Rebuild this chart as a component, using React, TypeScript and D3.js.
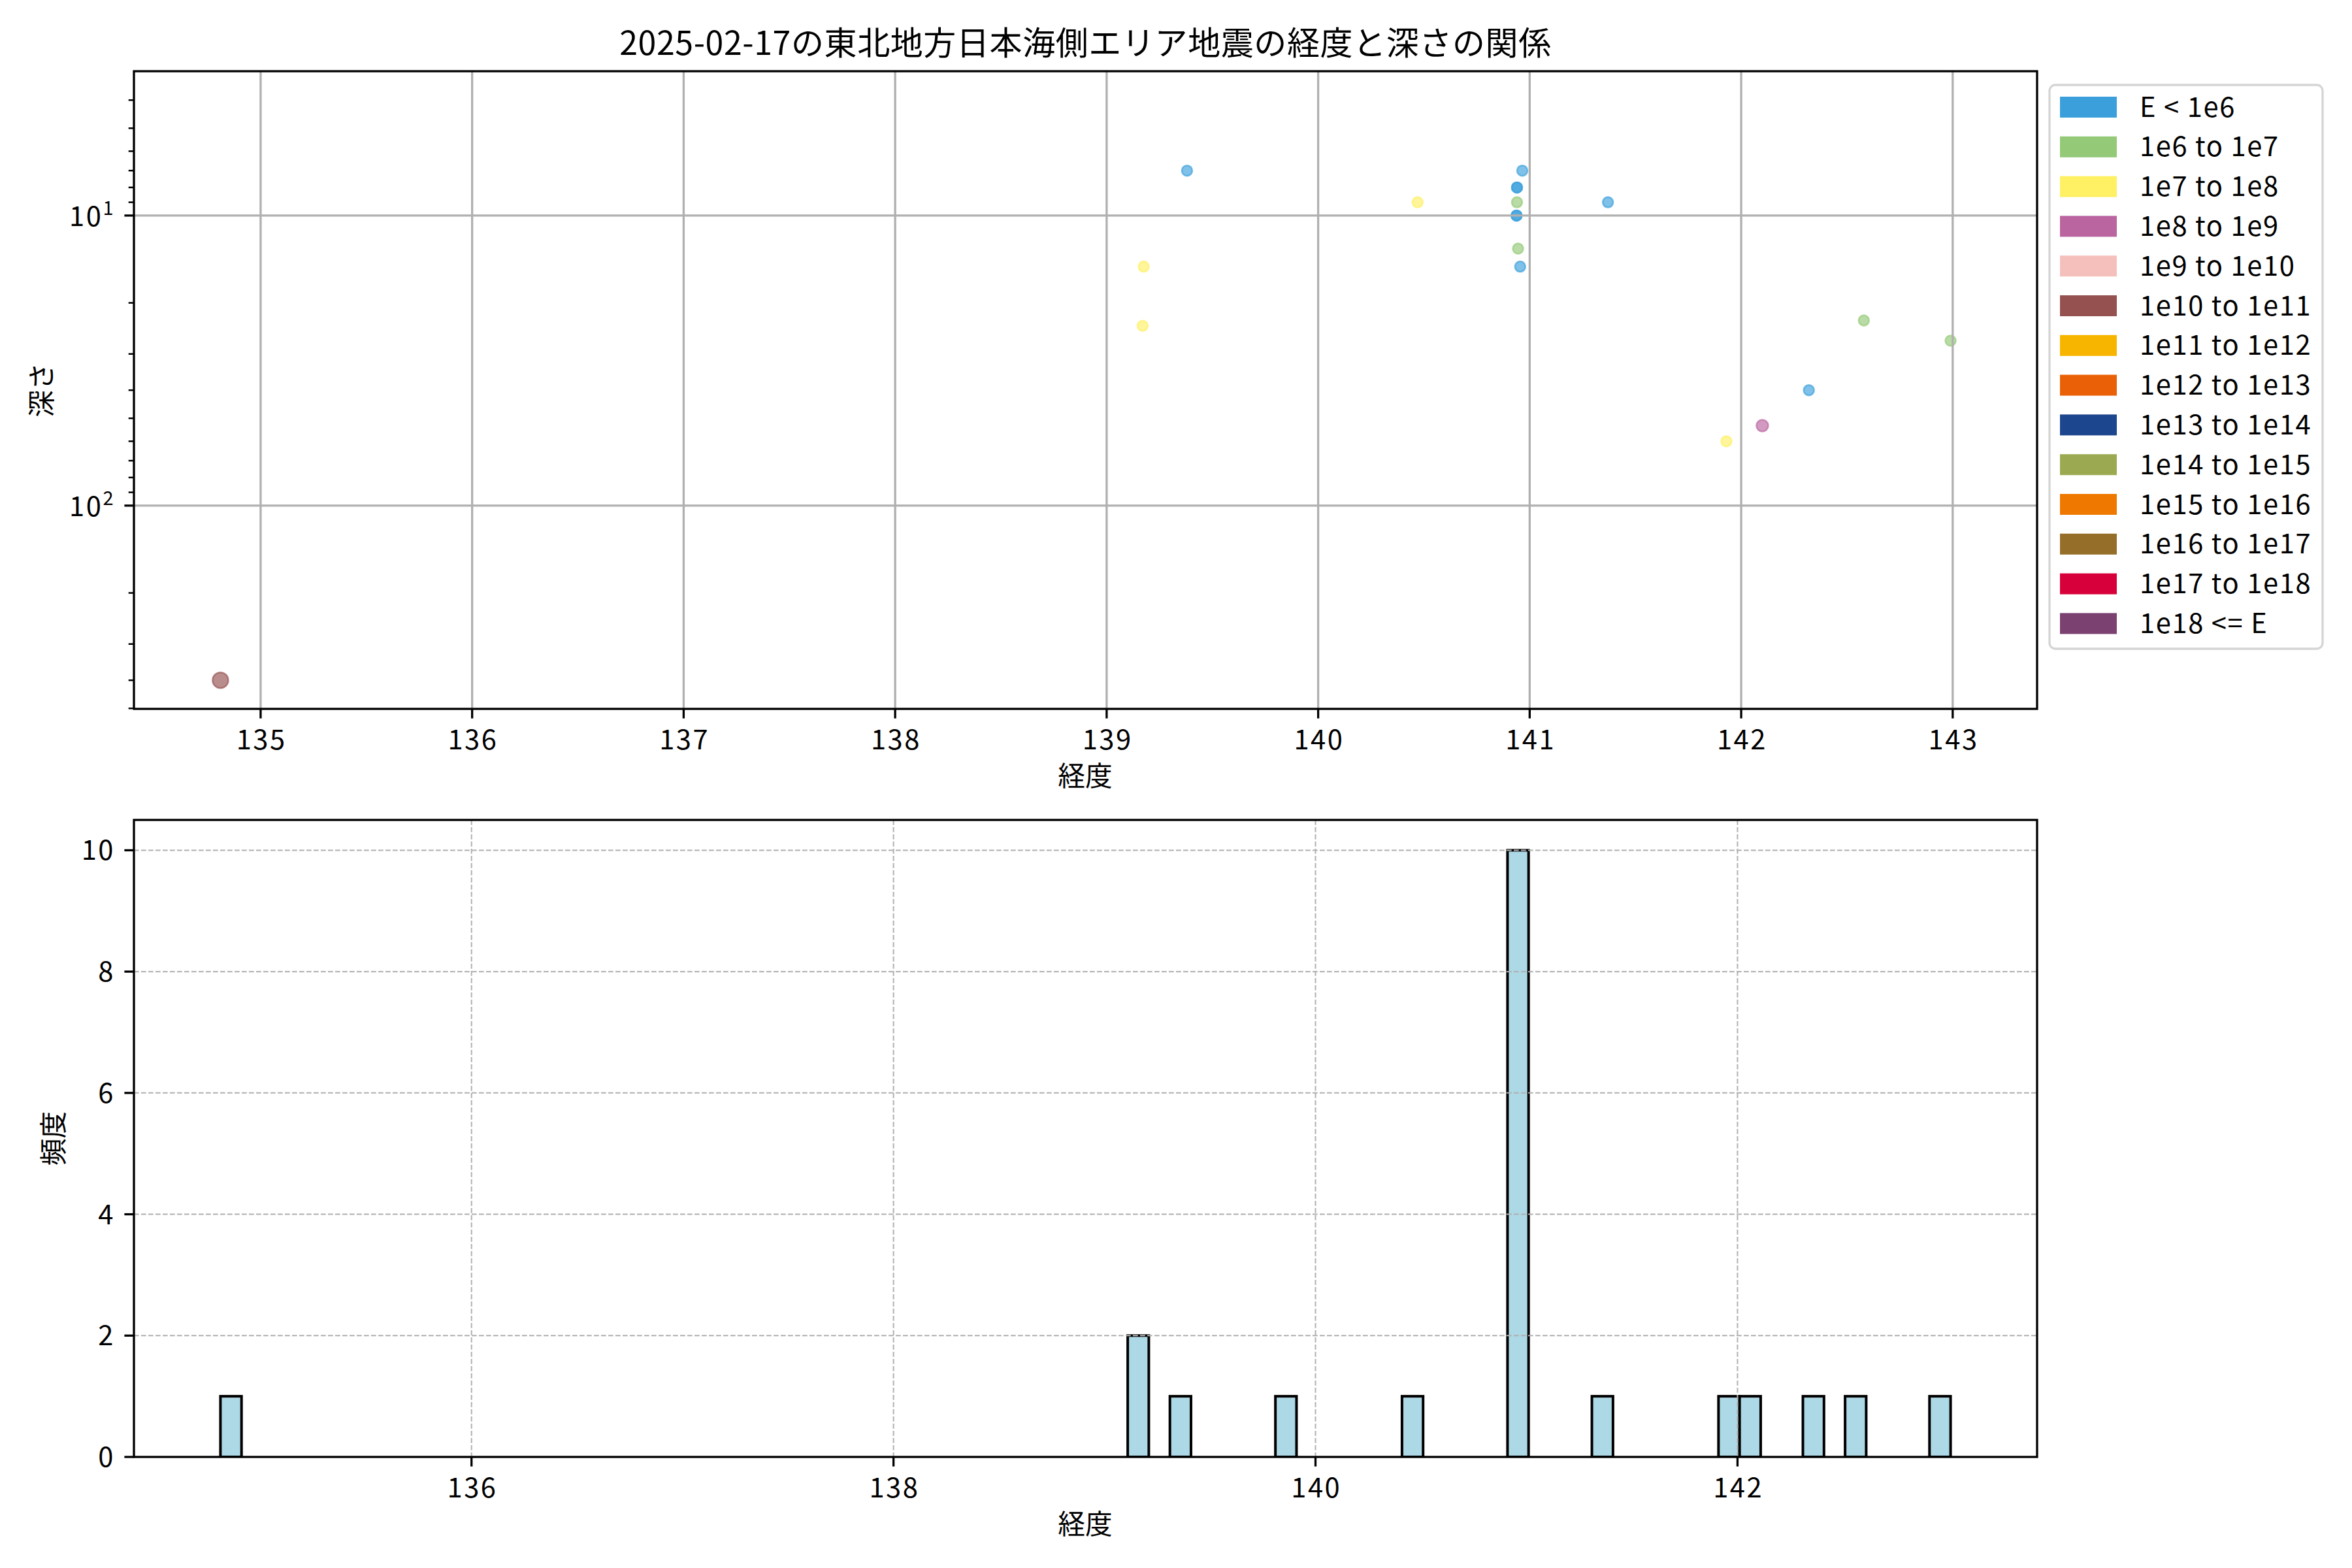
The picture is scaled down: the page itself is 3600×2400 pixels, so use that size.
import React from 'react';
import * as d3 from 'd3';

// ---------- data ----------
const TITLE = '2025-02-17の東北地方日本海側エリア地震の経度と深さの関係';
const X_LABEL = '経度';
const Y_LABEL_TOP = '深さ';
const Y_LABEL_HIST = '頻度';

// longitude, depth (km) and magnitude of each event
const lons = [
  139.38, 140.965, 140.94, 140.94, 140.47, 140.94, 141.37, 140.938, 140.938, 140.945,
  139.175, 140.955, 139.17, 142.58, 142.99, 142.32, 142.1, 141.93, 134.81, 139.86,
  140.95, 140.97,
];
const depths = [
  7, 7, 8, 8, 9, 9, 9, 10, 10, 13,
  15, 15, 24, 23, 27, 40, 53, 60, 400, 0,
  0, 0,
];
const mags = [
  0.5, 0.6, 0.4, 0.7, 1.7, 1.1, 0.6, 0.5, 0.3, 1.2,
  1.8, 0.7, 1.6, 1.3, 1.0, 0.5, 2.4, 1.9, 3.8, 0.5,
  0.4, 0.5,
];

const energyLabels = [
  'E < 1e6', '1e6 to 1e7', '1e7 to 1e8', '1e8 to 1e9', '1e9 to 1e10', '1e10 to 1e11',
  '1e11 to 1e12', '1e12 to 1e13', '1e13 to 1e14', '1e14 to 1e15', '1e15 to 1e16',
  '1e16 to 1e17', '1e17 to 1e18', '1e18 <= E',
];
const energyColors = [
  '#3a9fdb', '#93c977', '#fff064', '#ba64a0', '#f5c0bb', '#955050',
  '#f8b500', '#ea6006', '#1c468d', '#9baa50', '#ee7800',
  '#956f29', '#d7003a', '#7a4171',
];
const energyBounds = [1e6, 1e7, 1e8, 1e9, 1e10, 1e11, 1e12, 1e13, 1e14, 1e15, 1e16, 1e17, 1e18];

const topXTicks = [135, 136, 137, 138, 139, 140, 141, 142, 143];
const topYMajor = [10, 100];
const topYLim = [3.18, 502];
const histXTicks = [136, 138, 140, 142];
const histYTicks = [0, 2, 4, 6, 8, 10];
const BIN_WIDTH = 0.1;

// ---------- layout ----------
const W = 3600;
const H = 2400;
const L = 205;
const R = 3118;
const T1 = 109;
const B1 = 1085;
const T2 = 1255;
const B2 = 2230;
const FONT = "'Noto Sans CJK JP', 'Noto Sans', sans-serif";
const FS = 41.7;
const SPINE = 3.3;
const LS = 2.5; // letter spacing for latin/digit labels

const energyOf = (m: number) => Math.pow(10, 4.8 + 1.5 * m);
const classOf = (m: number) => d3.bisectRight(energyBounds, energyOf(m));

export default function App() {
  // ----- top scatter -----
  const lonMin = d3.min(lons) as number;
  const lonMax = d3.max(lons) as number;
  const pad = (lonMax - lonMin) * 0.05;
  const x1 = d3.scaleLinear().domain([lonMin - pad, lonMax + pad]).range([L, R]);
  const y1 = d3.scaleLog().domain(topYLim).range([T1, B1]);
  const rScale = d3.scaleLinear().domain([1.9, 3.8]).range([8, 12]).clamp(true);

  const pts = lons
    .map((lon, i) => ({ lon, depth: depths[i], mag: mags[i], cls: classOf(mags[i]) }))
    .filter((p) => p.depth > 0);

  const minor: number[] = [];
  for (let e = 0; e <= 2; e++) {
    for (let k = 2; k <= 9; k++) {
      const v = k * Math.pow(10, e);
      if (v >= topYLim[0] && v <= topYLim[1]) minor.push(v);
    }
  }

  // ----- histogram -----
  const nBins = Math.ceil((lonMax - lonMin) / BIN_WIDTH - 1e-9);
  const edges = d3.range(nBins + 1).map((k) => lonMin + k * BIN_WIDTH);
  const binner = d3
    .bin<number, number>()
    .domain([edges[0], edges[edges.length - 1]])
    .thresholds(edges.slice(1, -1));
  const bins = binner(lons);
  const hPad = (edges[edges.length - 1] - edges[0]) * 0.05;
  const x2 = d3
    .scaleLinear()
    .domain([edges[0] - hPad, edges[edges.length - 1] + hPad])
    .range([L, R]);
  const maxCount = d3.max(bins, (b) => b.length) as number;
  const y2 = d3.scaleLinear().domain([0, maxCount * 1.05]).range([B2, T2]);

  const legendTop = 130;
  const legendStep = 60.8;

  return (
    <svg
      width={W}
      height={H}
      viewBox={`0 0 ${W} ${H}`}
      style={{ position: 'absolute', left: 0, top: 0, background: '#fff' }}
      fontFamily={FONT}
    >
      <rect x={0} y={0} width={W} height={H} fill="#fff" />
      {/* title */}
      <text x={(L + R) / 2} y={84} fontSize={50} textAnchor="middle" fill="#000" letterSpacing={0.6}>
        {TITLE}
      </text>

      {/* ===== top axes ===== */}
      <defs>
        <clipPath id="clipTop">
          <rect x={L} y={T1} width={R - L} height={B1 - T1} />
        </clipPath>
        <clipPath id="clipBot">
          <rect x={L} y={T2} width={R - L} height={B2 - T2} />
        </clipPath>
      </defs>
      <g clipPath="url(#clipTop)">
        {pts.map((p, i) => {
          const c = energyColors[p.cls];
          return (
            <circle
              key={i}
              cx={x1(p.lon)}
              cy={y1(p.depth)}
              r={rScale(p.mag)}
              fill={c}
              fillOpacity={0.65}
              stroke={c}
              strokeOpacity={0.65}
              strokeWidth={2.5}
            />
          );
        })}
      </g>
      {/* grid */}
      {topXTicks.map((t) => (
        <line key={'gx' + t} x1={x1(t)} x2={x1(t)} y1={T1} y2={B1} stroke="#b0b0b0" strokeWidth={3.3} />
      ))}
      {topYMajor.map((t) => (
        <line key={'gy' + t} x1={L} x2={R} y1={y1(t)} y2={y1(t)} stroke="#b0b0b0" strokeWidth={3.3} />
      ))}
      {/* spines */}
      <rect x={L} y={T1} width={R - L} height={B1 - T1} fill="none" stroke="#000" strokeWidth={SPINE} />
      {/* x ticks */}
      {topXTicks.map((t) => (
        <g key={'tx' + t}>
          <line x1={x1(t)} x2={x1(t)} y1={B1} y2={B1 + 14.6} stroke="#000" strokeWidth={3.3} />
          <text x={x1(t) + LS / 2} y={1147} fontSize={FS} textAnchor="middle" fill="#000" letterSpacing={LS}>
            {t}
          </text>
        </g>
      ))}
      {/* y ticks */}
      {minor.map((v) => (
        <line key={'my' + v} x1={L - 8.3} x2={L} y1={y1(v)} y2={y1(v)} stroke="#000" strokeWidth={2.5} />
      ))}
      {topYMajor.map((t) => (
        <g key={'ty' + t}>
          <line x1={L - 14.6} x2={L} y1={y1(t)} y2={y1(t)} stroke="#000" strokeWidth={3.3} />
          <text x={176} y={y1(t) + 16} fontSize={FS} textAnchor="end" fill="#000" letterSpacing={LS}>
            10
            <tspan fontSize={29} dy={-17}>
              {Math.round(Math.log10(t))}
            </tspan>
          </text>
        </g>
      ))}
      <text x={1661} y={1203} fontSize={FS} textAnchor="middle" fill="#000">
        {X_LABEL}
      </text>
      <text
        transform={`translate(79, ${(T1 + B1) / 2}) rotate(-90)`}
        fontSize={FS}
        textAnchor="middle"
        fill="#000"
      >
        {Y_LABEL_TOP}
      </text>

      {/* legend */}
      <rect x={3137} y={legendTop} width={418} height={863} rx={9} fill="#fff" fillOpacity={0.8} stroke="#d5d5d5" strokeWidth={3.3} />
      {energyLabels.map((lab, i) => {
        const cy = 164 + i * legendStep;
        return (
          <g key={'lg' + i}>
            <rect x={3153} y={cy - 16} width={87} height={32} fill={energyColors[i]} />
            <text x={3275} y={cy + 14.5} fontSize={FS} fill="#000" letterSpacing={1.6}>
              {lab}
            </text>
          </g>
        );
      })}

      {/* ===== histogram ===== */}
      <g clipPath="url(#clipBot)">
        {bins.map((b, i) => (
          <rect
            key={'b' + i}
            x={x2(b.x0 as number)}
            width={x2(b.x1 as number) - x2(b.x0 as number)}
            y={y2(b.length)}
            height={y2(0) - y2(b.length)}
            fill="#add8e6"
            stroke="#000"
            strokeWidth={4}
          />
        ))}
      </g>
      {histXTicks.map((t) => (
        <line key={'hgx' + t} x1={x2(t)} x2={x2(t)} y1={T2} y2={B2} stroke="#b0b0b0" strokeWidth={2} strokeDasharray="7.7,3.3" />
      ))}
      {histYTicks.map((t) => (
        <line key={'hgy' + t} x1={L} x2={R} y1={y2(t)} y2={y2(t)} stroke="#b0b0b0" strokeWidth={2} strokeDasharray="7.7,3.3" />
      ))}
      <rect x={L} y={T2} width={R - L} height={B2 - T2} fill="none" stroke="#000" strokeWidth={SPINE} />
      {histXTicks.map((t) => (
        <g key={'htx' + t}>
          <line x1={x2(t)} x2={x2(t)} y1={B2} y2={B2 + 14.6} stroke="#000" strokeWidth={3.3} />
          <text x={x2(t) + LS / 2} y={2292} fontSize={FS} textAnchor="middle" fill="#000" letterSpacing={LS}>
            {t}
          </text>
        </g>
      ))}
      {histYTicks.map((t) => (
        <g key={'hty' + t}>
          <line x1={L - 14.6} x2={L} y1={y2(t)} y2={y2(t)} stroke="#000" strokeWidth={3.3} />
          <text x={176} y={y2(t) + 15} fontSize={FS} textAnchor="end" fill="#000" letterSpacing={LS}>
            {t}
          </text>
        </g>
      ))}
      <text x={1661} y={2348} fontSize={FS} textAnchor="middle" fill="#000">
        {X_LABEL}
      </text>
      <text
        transform={`translate(97, ${(T2 + B2) / 2}) rotate(-90)`}
        fontSize={FS}
        textAnchor="middle"
        fill="#000"
      >
        {Y_LABEL_HIST}
      </text>
    </svg>
  );
}
